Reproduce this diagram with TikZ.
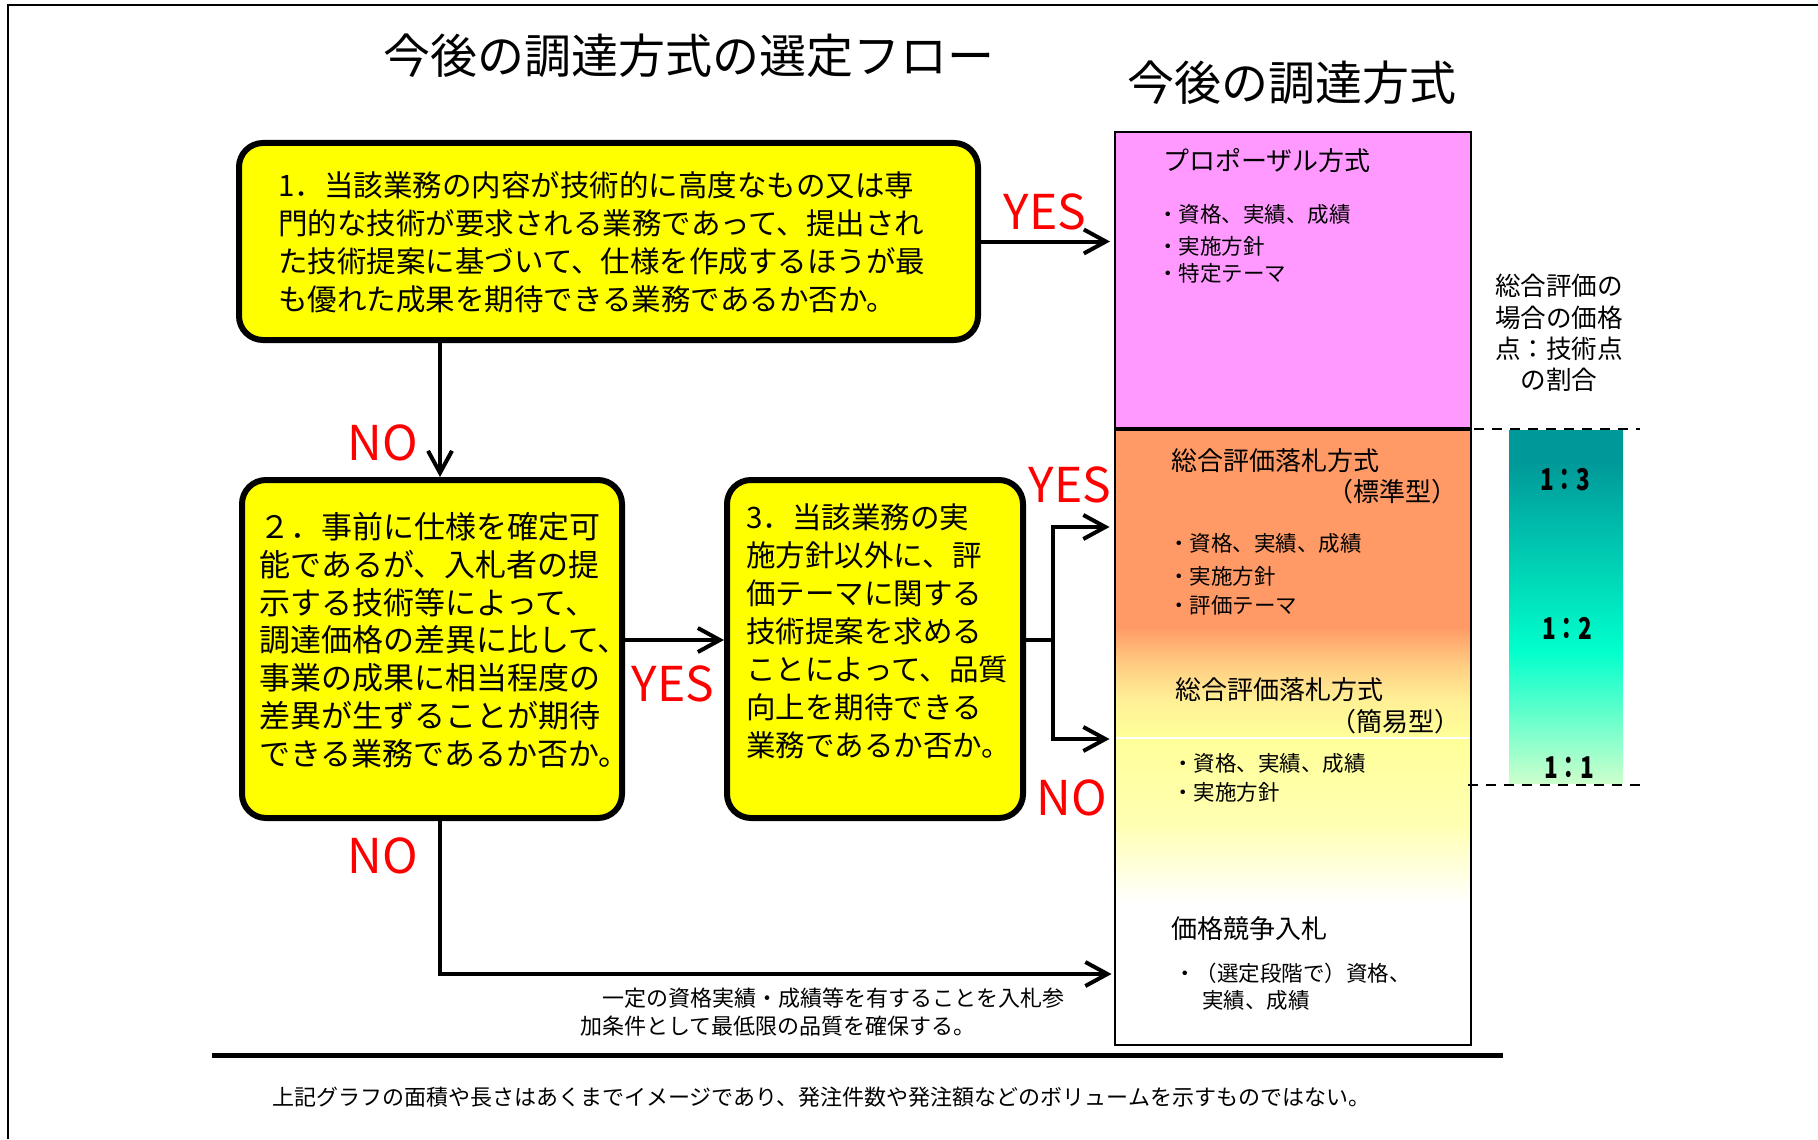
\documentclass[tikz,border=0pt]{standalone}
\usepackage{graphicx}
\usepackage{fontspec}
\setmainfont{Noto Sans CJK JP}
\usetikzlibrary{arrows.meta}
\definecolor{boxyellow}{RGB}{255,255,0}
\definecolor{pinkfill}{RGB}{255,153,255}
\definecolor{orng}{RGB}{255,153,102}
\definecolor{peach}{RGB}{255,205,130}
\definecolor{ymid}{RGB}{255,240,150}
\definecolor{ylw}{RGB}{255,255,153}
\definecolor{ylight}{RGB}{255,255,178}
\definecolor{tealtop}{RGB}{0,153,153}
\definecolor{tealmid}{RGB}{0,255,204}
\definecolor{tealbot}{RGB}{204,255,204}
\pgfdeclareverticalshading{orangeband}{100bp}{color(0bp)=(white); color(36.5bp)=(white); color(43.0bp)=(ylight); color(49.96bp)=(ylw); color(53.04bp)=(ymid); color(55.87bp)=(peach); color(59.04bp)=(orng); color(100bp)=(orng)}
\pgfdeclareverticalshading{tealband}{100bp}{color(0bp)=(tealbot); color(25bp)=(tealbot); color(43.84bp)=(tealmid); color(70.33bp)=(tealtop); color(100bp)=(tealtop)}
\begin{document}
\begin{tikzpicture}[x=0.5pt,y=-0.5pt,
  ybox/.style={draw, line width=3pt, fill=boxyellow, rounded corners=12pt, inner sep=0pt},
  btext/.style={align=left, inner sep=0pt, anchor=west},
  lbl/.style={text=red, font=\fontsize{24}{24}\selectfont, inner sep=0pt},
  conn/.style={line width=2pt},
  arr/.style={line width=2pt, -{Straight Barb[length=11pt,width=12pt]}},
  sm/.style={font=\fontsize{10.75}{13}\selectfont, inner sep=0pt, anchor=west},
  md/.style={font=\fontsize{13}{15.6}\selectfont, inner sep=0pt, anchor=west},
  ttl/.style={font=\fontsize{23.5}{28}\selectfont, inner sep=0pt},
  ftxt/.style={font=\fontsize{11}{14}\selectfont, inner sep=0pt, anchor=west, align=left},
  ratio/.style={font=\fontsize{15}{15}\selectfont\bfseries, inner sep=0pt},
  dline/.style={line width=1pt, dash pattern=on 5pt off 4pt}]
\useasboundingbox (0,0) rectangle (1818,1139);
% frame
\draw[line width=1pt] (8,1139) -- (8,5) -- (1818,5);
% titles
\node[ttl] (title1) at (689,56) {今後の調達方式の選定フロー};
\node[ttl] (title2) at (1292,83) {今後の調達方式};
% right column boxes
\node[draw, line width=1pt, shade, shading=orangeband, minimum width=178pt, minimum height=307.5pt, inner sep=0pt] (sogo) at (1292.5,737.5) {};
\draw[white, line width=0.8pt] (1116,738) -- (1469,738);
\node[draw, line width=1pt, fill=pinkfill, minimum width=178pt, minimum height=148pt, inner sep=0pt] (prop) at (1293,280) {};
% pink texts
\node[md] (p0) at (1163,161) {プロポーザル方式};
\node[sm] (p1) at (1157,214) {・資格、実績、成績};
\node[sm] (p2) at (1157,246) {・実施方針};
\node[sm] (p3) at (1157,273) {・特定テーマ};
% standard type
\node[md] (s0) at (1171,461) {総合評価落札方式};
\node[md, anchor=east] (s1) at (1458,492) {（標準型）};
\node[sm] (s2) at (1168,543) {・資格、実績、成績};
\node[sm] (s3) at (1168,576) {・実施方針};
\node[sm] (s4) at (1168,605) {・評価テーマ};
% simple type
\node[md] (e0) at (1175,690) {総合評価落札方式};
\node[md, anchor=east] (e1) at (1461,722) {（簡易型）};
\node[sm] (e2) at (1172,763) {・資格、実績、成績};
\node[sm] (e3) at (1172,792) {・実施方針};
% price competition
\node[md] (k0) at (1171,929) {価格競争入札};
\node[sm] (k1) at (1174,973) {・（選定段階で）資格、};
\node[sm] (k2) at (1202,1000) {実績、成績};
% ratio annotation
\node[font=\fontsize{12.8}{15.65}\selectfont, align=center, inner sep=0pt] (note) at (1559,333) {総合評価の\\場合の価格\\点：技術点\\の割合};
\draw[dline] (1474,429) -- (1640,429);
\draw[dline] (1468,785) -- (1641,785);
\shade[shading=tealband] (1509,430) rectangle (1623,783);
\node[ratio] (r3) at (1565,480) {\scalebox{0.75}[1]{1：3}};
\node[ratio] (r2) at (1567,628) {\scalebox{0.75}[1]{1：2}};
\node[ratio] (r1) at (1569,768) {\scalebox{0.75}[1]{1：1}};
% flow boxes
\node[ybox, minimum width=369.5pt, minimum height=98.5pt] (box1) at (608.5,241.5) {};
\node[btext, font=\fontsize{14.75}{19}\selectfont] (t1) at (278,242) {1．当該業務の内容が技術的に高度なもの又は専\\門的な技術が要求される業務であって、提出され\\た技術提案に基づいて、仕様を作成するほうが最\\も優れた成果を期待できる業務であるか否か。};
\node[ybox, minimum width=190pt, minimum height=169pt] (box2) at (432,649) {};
\node[btext, font=\fontsize{15.5}{18.9}\selectfont] (t2) at (259,640) {２．事前に仕様を確定可\\能であるが、入札者の提\\示する技術等によって、\\調達価格の差異に比して、\\事業の成果に相当程度の\\差異が生ずることが期待\\できる業務であるか否か。};
\node[ybox, minimum width=148pt, minimum height=169pt] (box3) at (875,649) {};
\node[btext, font=\fontsize{14.75}{19}\selectfont] (t3) at (746,631) {3．当該業務の実\\施方針以外に、評\\価テーマに関する\\技術提案を求める\\ことによって、品質\\向上を期待できる\\業務であるか否か。};
% connectors
\coordinate (c1) at (440,0);
\coordinate (m) at (0,640);
\coordinate (jx) at (1053,0);
\coordinate (ty) at (0,527);
\coordinate (tn) at (0,739);
\coordinate (tb) at (0,974);
\draw[arr, shorten >=2pt] (box1.east) -- (box1.east -| prop.west);
\draw[arr] (box1.south -| c1) -- (box2.north -| c1);
\draw[arr] (box2.east |- m) -- (box3.west |- m);
\draw[conn] (box3.east |- m) -- (jx |- m);
\draw[arr, shorten >=2pt] (jx |- m) |- (sogo.west |- ty);
\draw[arr, shorten >=2pt] (jx |- m) |- (sogo.west |- tn);
\draw[arr, shorten >=1pt] (box2.south -| c1) |- (sogo.west |- tb);
% YES / NO labels
\node[lbl] (yes1) at (1045,212) {YES};
\node[lbl] (no1) at (383,443) {NO};
\node[lbl] (yes2) at (673,684) {YES};
\node[lbl] (yes3) at (1070,485) {YES};
\node[lbl] (no3) at (1072,798) {NO};
\node[lbl] (no2) at (383,856) {NO};
% note under arrow
\node[ftxt] (cond) at (580,1012) {　一定の資格実績・成績等を有することを入札参\\加条件として最低限の品質を確保する。};
% bottom rule and footer
\draw[line width=2.5pt] (212,1055) -- (1503,1055);
\node[ftxt] (foot) at (272,1097) {上記グラフの面積や長さはあくまでイメージであり、発注件数や発注額などのボリュームを示すものではない。};
\end{tikzpicture}
\end{document}
